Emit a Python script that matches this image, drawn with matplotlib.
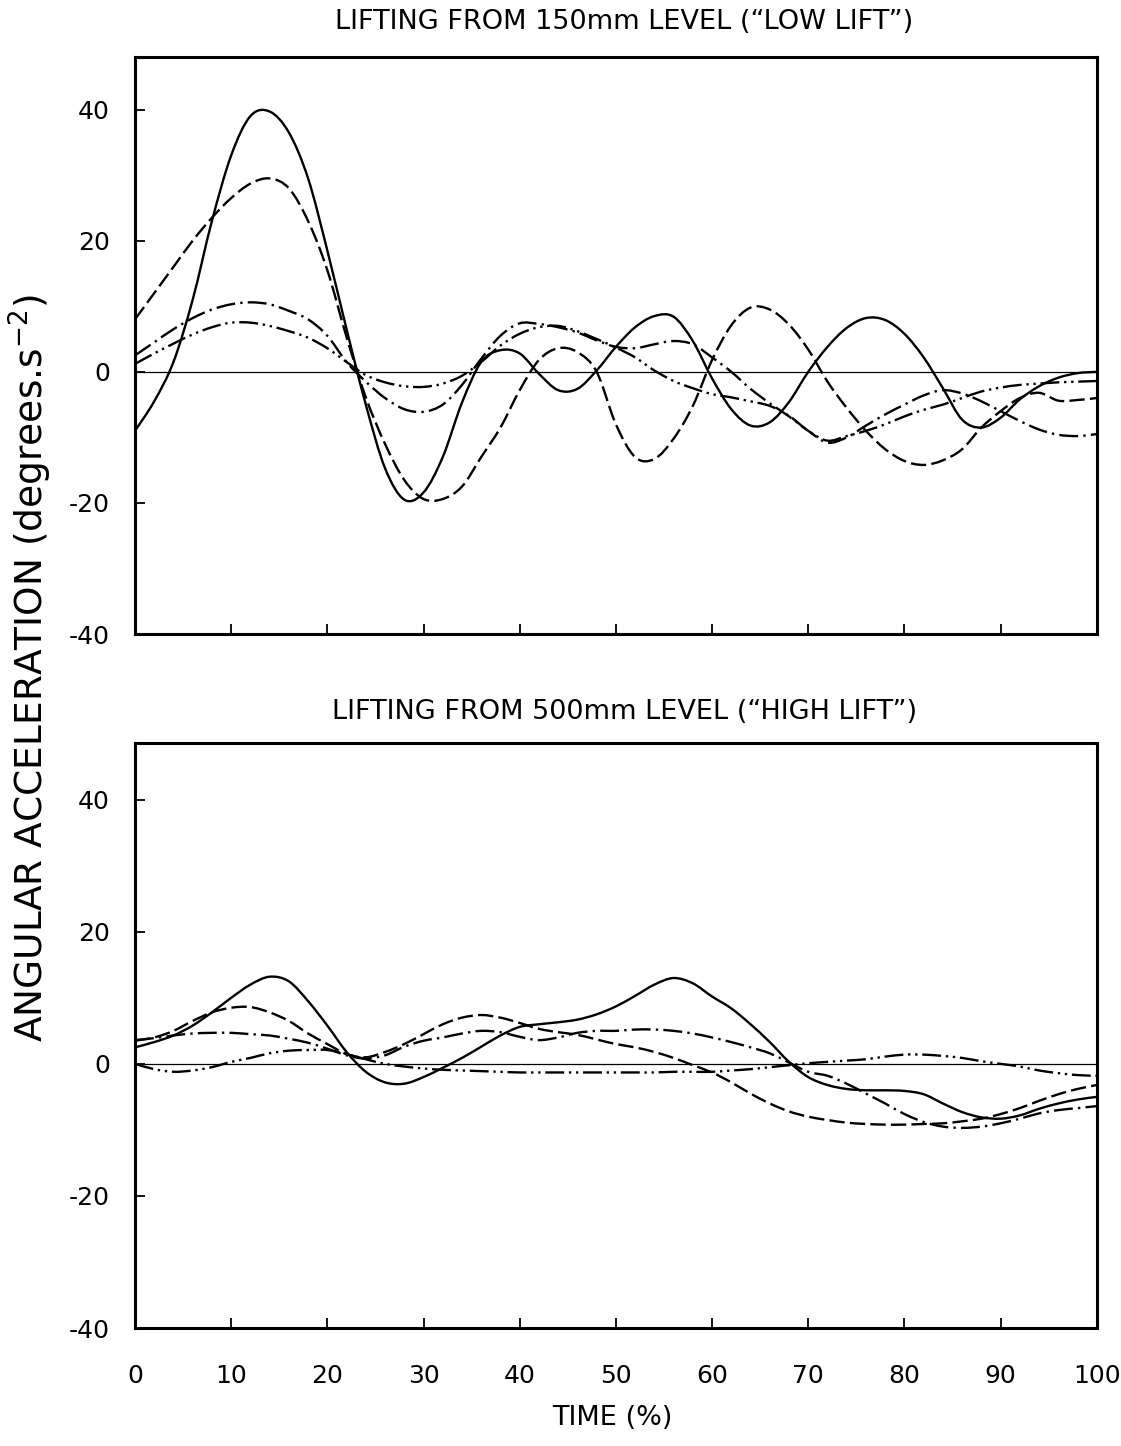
import matplotlib
matplotlib.use('Agg')
import matplotlib.pyplot as plt
from matplotlib.path import Path
from matplotlib.patches import PathPatch

# time grid (% of lift), every 2 %
time_pct = list(range(0, 101, 2))

# lifting from 150 mm ("low lift")
low_solid = [-9, -4.5, 1.5, 11, 23, 33, 39, 39.7, 36.5, 29.5, 18.5, 6.5, -5, -14.7, -19.5, -18.4,
             -13, -4.7, 1.5, 3.3, 2.8, -0.3, -2.8, -2.6, 0.2, 3.8, 6.8, 8.5, 8.4, 4.7,
             -1, -5.7, -8.2, -7.7, -4.6, 0, 3.8, 6.7, 8.2, 7.9, 5.8, 2.2, -2.5, -7.3, -8.5,
             -7, -4.2, -2.2, -0.9, -0.2, 0]
low_dashed = [8, 12, 16, 20, 23.5, 26.5, 28.7, 29.5, 28, 23, 15.5, 5.3, -3.9, -11, -16.5, -19.4,
              -19.4, -17.5, -13, -8.5, -2.8, 1.8, 3.6, 3, 0, -8, -13, -13.3, -10.2, -5.2,
              1.8, 7.1, 9.8, 9.5, 7.2, 3.4, -1.5, -5.5, -9, -11.8, -13.6, -14.2, -13.5, -11.8,
              -8.5, -6, -4, -3.2, -4.4, -4.3, -4]
low_dashdot = [2.5, 4.5, 6.5, 8.2, 9.5, 10.3, 10.6, 10.3, 9.3, 8, 5.5, 1.5, -1.5, -4, -5.7, -6.1,
               -5, -2, 2, 5.5, 7.4, 7.3, 6.8, 6, 4.8, 3.8, 3.6, 4.2, 4.7, 4.2,
               2.2, 0, -2.6, -4.8, -6.8, -9, -10.8, -10, -8.2, -6.5, -5, -3.6, -2.8, -3.3, -4.5,
               -6, -7.5, -8.8, -9.6, -9.8, -9.5]
low_dashdotdot = [1.2, 2.8, 4.3, 5.7, 6.8, 7.5, 7.5, 7, 6.2, 5.2, 3.6, 1.5, -0.5, -1.6, -2.2, -2.3,
                  -1.8, -0.6, 1.5, 4, 5.8, 6.8, 7, 6.2, 5, 3.7, 2.2, 0.2, -1.4, -2.5,
                  -3.4, -3.9, -4.5, -5.2, -6.7, -9, -10.5, -9.8, -9, -8, -6.8, -5.8, -5, -4, -3,
                  -2.4, -2, -1.8, -1.6, -1.5, -1.4]

# lifting from 500 mm ("high lift")
high_solid = [2.5, 3.3, 4.3, 5.8, 7.8, 10, 12, 13.2, 12.5, 9.5, 5.8, 1.8, -1.2, -2.8, -3, -2,
              -0.6, 0.9, 2.6, 4.3, 5.6, 6, 6.3, 6.7, 7.5, 8.7, 10.3, 12, 13, 12.2,
              10.2, 8.4, 6, 3.3, 0.3, -2, -3.2, -3.8, -4, -4, -4.1, -4.6, -6, -7.3, -8.1,
              -8.3, -7.8, -6.8, -6, -5.4, -5]
high_dashed = [3.5, 4, 5, 6.5, 7.8, 8.5, 8.6, 7.8, 6.5, 4.6, 3, 1.5, 1, 1.8, 3, 4.5,
               6, 7, 7.4, 7, 6.2, 5.3, 4.8, 4.4, 3.7, 3, 2.5, 1.8, 0.9, -0.2,
               -1.3, -2.8, -4.5, -6, -7.2, -8, -8.5, -8.9, -9.1, -9.2, -9.2, -9.1, -9, -8.7, -8.3,
               -7.6, -6.7, -5.6, -4.6, -3.8, -3.2]
high_dashdot = [3.6, 3.9, 4.3, 4.6, 4.7, 4.7, 4.5, 4.3, 3.8, 3.2, 2.3, 1.3, 0.8, 1.3, 2.6, 3.5,
                4, 4.6, 5, 4.8, 4.1, 3.6, 4, 4.7, 5, 5, 5.2, 5.2, 5, 4.6,
                4, 3.3, 2.5, 1.6, 0.2, -1.2, -1.8, -3, -4.5, -6, -7.6, -8.8, -9.5, -9.7, -9.5,
                -9, -8.3, -7.5, -7, -6.7, -6.4]
high_dashdotdot = [0, -0.8, -1.2, -1, -0.5, 0.3, 0.9, 1.6, 2, 2.1, 2.1, 1.5, 0.7, 0, -0.4, -0.7,
                   -0.9, -1, -1.1, -1.2, -1.3, -1.3, -1.3, -1.3, -1.3, -1.3, -1.3, -1.3, -1.2, -1.2,
                   -1.2, -1, -0.8, -0.5, -0.2, 0.1, 0.3, 0.5, 0.7, 1.1, 1.4, 1.4, 1.2, 0.9, 0.4,
                   0, -0.4, -1, -1.4, -1.7, -1.8]

plt.rcParams['font.family'] = ['DejaVu Sans']
plt.rcParams['axes.unicode_minus'] = False

line_styles = ['-',
               (0, (6.5, 2.2)),                  # long dashes
               (0, (8, 2.2, 1, 2.2)),            # dash dot
               (0, (8, 2, 1, 2, 1, 2))]          # dash dot dot


def smooth_path(x, y):
    # Catmull-Rom style bezier through the readings, so the trace is drawn as a smooth curve
    n = len(x)
    verts = [(x[0], y[0])]
    codes = [Path.MOVETO]
    for i in range(n - 1):
        xa, ya = (x[i - 1], y[i - 1]) if i > 0 else (x[i], y[i])
        xd, yd = (x[i + 2], y[i + 2]) if i + 2 < n else (x[i + 1], y[i + 1])
        verts.append((x[i] + (x[i + 1] - xa) / 6, y[i] + (y[i + 1] - ya) / 6))
        verts.append((x[i + 1] - (xd - x[i]) / 6, y[i + 1] - (yd - y[i]) / 6))
        verts.append((x[i + 1], y[i + 1]))
        codes += [Path.CURVE4] * 3
    return Path(verts, codes)


fig = plt.figure(figsize=(11.21, 14.46), dpi=100)
ax_low = fig.add_axes([0.1204, 0.5615, 0.858, 0.399])
ax_high = fig.add_axes([0.1204, 0.0816, 0.858, 0.4046])

panels = [(ax_low, [low_solid, low_dashed, low_dashdot, low_dashdotdot], 48),
          (ax_high, [high_solid, high_dashed, high_dashdot, high_dashdotdot], 48.6)]

for ax, curves, ytop in panels:
    ax.axhline(0, color='black', lw=0.9)
    for vals, ls in zip(curves, line_styles):
        ax.add_patch(PathPatch(smooth_path(time_pct, vals), fill=False,
                               edgecolor='black', lw=1.7, linestyle=ls))
    ax.set_xlim(0, 100)
    ax.set_ylim(-40, ytop)
    ax.set_xticks(range(0, 101, 10))
    ax.set_yticks([-40, -20, 0, 20, 40])
    ax.tick_params(direction='in', length=7, width=1.3, labelsize=18, pad=18)
    for sp in ax.spines.values():
        sp.set_linewidth(2.2)

ax_low.tick_params(labelbottom=False)
ax_high.tick_params(axis='x', pad=26)

fig.text(0.557, 0.985, 'LIFTING FROM 150mm LEVEL (\u201cLOW LIFT\u201d)',
         ha='center', va='center', fontsize=19.5)
fig.text(0.557, 0.5076, 'LIFTING FROM 500mm LEVEL (\u201cHIGH LIFT\u201d)',
         ha='center', va='center', fontsize=19.5)
fig.text(0.027, 0.538, 'ANGULAR ACCELERATION (degrees.s$^{-2}$)',
         rotation=90, ha='center', va='center', fontsize=27)
fig.text(0.546, 0.0194, 'TIME (%)', ha='center', va='center', fontsize=19.5)

plt.savefig('out.png', dpi=100)
